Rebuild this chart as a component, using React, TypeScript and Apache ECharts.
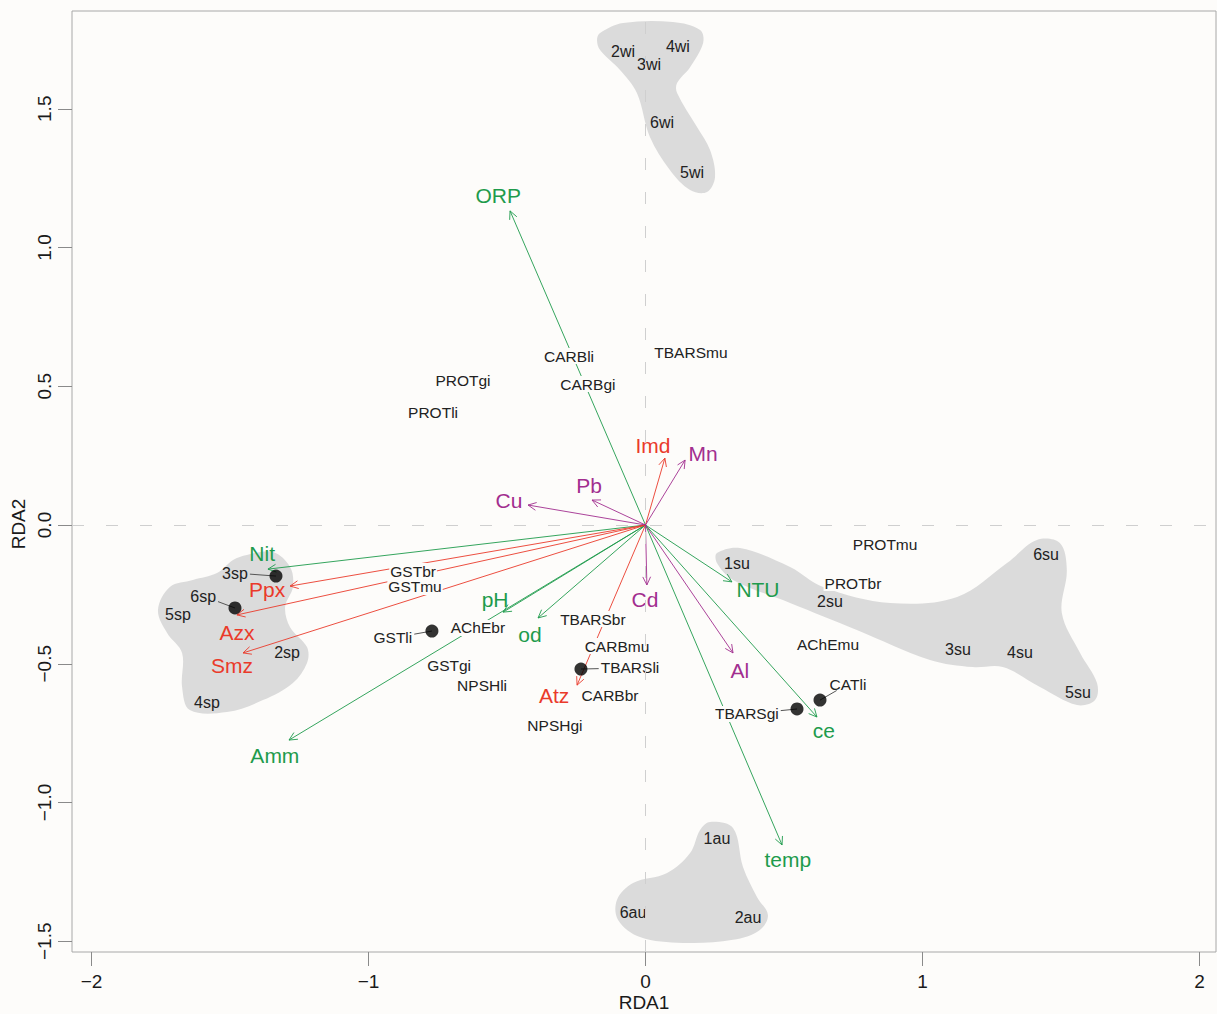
import React, { useEffect, useRef } from "react";
import * as echarts from "echarts";

const FONT = "'Liberation Sans', Arial, Helvetica, sans-serif";
const BG = "#fdfcfa";
const GREEN = "#1e9b4c";
const RED = "#ea3a2a";
const PURPLE = "#a22e8f";
const INK = "#222222";
const HULL = "#dbdbdb";

// axis extents and tick values
const X_MIN = -2.0704;
const X_MAX = 2.0596;
const Y_MIN = -1.5387;
const Y_MAX = 1.8523;
const xTicks = [-2, -1, 0, 1, 2];
const yTicks = [-1.5, -1, -0.5, 0, 0.5, 1, 1.5];

// site scores (season samples)
const siteNames = ["2wi", "4wi", "3wi", "6wi", "5wi", "3sp", "6sp", "5sp", "2sp", "4sp", "1su", "2su", "6su", "3su", "4su", "5su", "1au", "6au", "2au"];
const siteX = [-0.081, 0.117, 0.013, 0.06, 0.168, -1.482, -1.597, -1.688, -1.294, -1.583, 0.33, 0.666, 1.446, 1.128, 1.352, 1.561, 0.258, -0.045, 0.37];
const siteY = [1.708, 1.726, 1.658, 1.452, 1.272, -0.173, -0.256, -0.324, -0.461, -0.638, -0.137, -0.274, -0.108, -0.45, -0.461, -0.602, -1.128, -1.398, -1.416];

// biomarker (response) scores
const respNames = ["TBARSmu", "CARBli", "CARBgi", "PROTgi", "PROTli", "PROTmu", "PROTbr", "AChEmu", "CATli", "TBARSgi", "GSTbr", "GSTmu", "GSTli", "AChEbr", "GSTgi", "NPSHli", "NPSHgi", "TBARSbr", "CARBmu", "TBARSli", "CARBbr"];
const respX = [0.164, -0.276, -0.208, -0.659, -0.767, 0.865, 0.749, 0.659, 0.731, 0.366, -0.839, -0.832, -0.912, -0.605, -0.709, -0.59, -0.327, -0.19, -0.103, -0.056, -0.128];
const respY = [0.623, 0.609, 0.508, 0.519, 0.404, -0.072, -0.209, -0.429, -0.573, -0.681, -0.166, -0.223, -0.407, -0.371, -0.508, -0.58, -0.724, -0.339, -0.436, -0.515, -0.613];

// points shown with a dot and a leader to their label
const dotNames = ["3sp", "6sp", "GSTli", "TBARSli", "CATli", "TBARSgi"];
const dotX = [-1.334, -1.482, -0.771, -0.233, 0.63, 0.547];
const dotY = [-0.184, -0.299, -0.382, -0.519, -0.631, -0.663];

// physico-chemical variables
const envNames = ["ORP", "Nit", "pH", "od", "Amm", "NTU", "ce", "temp"];
const envX = [-0.489, -1.363, -0.514, -0.388, -1.287, 0.312, 0.619, 0.493];
const envY = [1.132, -0.159, -0.314, -0.335, -0.775, -0.205, -0.692, -1.153];
const envLabelX = [-0.532, -1.384, -0.543, -0.417, -1.338, 0.406, 0.644, 0.514];
const envLabelY = [1.186, -0.101, -0.267, -0.396, -0.829, -0.231, -0.739, -1.204];

// pesticides
const pestNames = ["Imd", "Ppx", "Azx", "Smz", "Atz"];
const pestX = [0.07, -1.283, -1.475, -1.453, -0.247];
const pestY = [0.241, -0.22, -0.324, -0.461, -0.577];
const pestLabelX = [0.027, -1.366, -1.475, -1.493, -0.33];
const pestLabelY = [0.288, -0.234, -0.386, -0.505, -0.613];

// metals
const metalNames = ["Mn", "Cu", "Pb", "Cd", "Al"];
const metalX = [0.143, -0.424, -0.193, 0.005, 0.316];
const metalY = [0.234, 0.072, 0.09, -0.216, -0.461];
const metalLabelX = [0.208, -0.493, -0.204, -0.002, 0.341];
const metalLabelY = [0.259, 0.09, 0.144, -0.267, -0.523];

// season envelopes
const winterHull = [[-0.164, 1.773], [-0.081, 1.809], [0.099, 1.813], [0.197, 1.784], [0.208, 1.737], [0.161, 1.65], [0.114, 1.593], [0.114, 1.557], [0.186, 1.434], [0.233, 1.351], [0.251, 1.254], [0.222, 1.2], [0.161, 1.207], [0.088, 1.279], [0.016, 1.398], [-0.031, 1.557], [-0.092, 1.64], [-0.164, 1.712], [-0.175, 1.748]];
const springHull = [[-1.439, -0.108], [-1.345, -0.097], [-1.283, -0.151], [-1.273, -0.223], [-1.301, -0.295], [-1.283, -0.368], [-1.222, -0.44], [-1.222, -0.497], [-1.273, -0.569], [-1.381, -0.631], [-1.511, -0.674], [-1.645, -0.667], [-1.673, -0.584], [-1.673, -0.461], [-1.727, -0.389], [-1.76, -0.306], [-1.717, -0.223], [-1.634, -0.198], [-1.547, -0.173], [-1.489, -0.126]];
const summerHull = [[0.258, -0.101], [0.341, -0.083], [0.522, -0.151], [0.641, -0.223], [0.883, -0.281], [1.125, -0.259], [1.305, -0.137], [1.413, -0.054], [1.496, -0.065], [1.521, -0.162], [1.503, -0.317], [1.569, -0.461], [1.63, -0.569], [1.623, -0.631], [1.558, -0.649], [1.424, -0.584], [1.29, -0.512], [1.182, -0.512], [1.027, -0.486], [0.763, -0.378], [0.522, -0.281], [0.316, -0.198], [0.258, -0.137]];
const autumnHull = [[0.233, -1.07], [0.316, -1.092], [0.352, -1.232], [0.403, -1.341], [0.442, -1.405], [0.413, -1.459], [0.316, -1.495], [0.135, -1.506], [-0.02, -1.485], [-0.099, -1.423], [-0.103, -1.351], [-0.045, -1.29], [0.078, -1.254], [0.161, -1.182], [0.197, -1.099]];
const hulls = [winterHull, springHull, summerHull, autumnHull];

const SITE_SIZE = 16;
const RESP_SIZE = 15.5;
const VAR_SIZE = 21;
const AXIS_SIZE = 19;

let measureCtx: CanvasRenderingContext2D | null = null;
function textWidth(text: string, size: number) {
  if (!measureCtx) measureCtx = document.createElement("canvas").getContext("2d");
  if (!measureCtx) return text.length * size * 0.55;
  measureCtx.font = `${size}px ${FONT}`;
  return measureCtx.measureText(text).width;
}

function fmt(v: number, digits: number) {
  return v.toFixed(digits).replace("-", "\u2212");
}

function hullSeries() {
  return {
    type: "custom",
    z: 1,
    silent: true,
    data: hulls.map((_, i) => [hulls[i][0][0], hulls[i][0][1], i]),
    renderItem: (params: any, api: any) => {
      const pts = hulls[params.dataIndex].map((p) => api.coord(p));
      return {
        type: "polygon",
        shape: { points: pts, smooth: 0.35 },
        style: { fill: HULL, stroke: null },
      };
    },
  };
}

function arrowSeries(xs: number[], ys: number[], color: string) {
  return {
    type: "custom",
    z: 3,
    silent: true,
    data: xs.map((x, i) => [x, ys[i]]),
    renderItem: (params: any, api: any) => {
      const o = api.coord([0, 0]);
      const t = api.coord([api.value(0), api.value(1)]);
      const dx = t[0] - o[0];
      const dy = t[1] - o[1];
      const len = Math.hypot(dx, dy) || 1;
      const ux = dx / len;
      const uy = dy / len;
      const L = 9;
      const a = Math.PI / 7;
      const arm = (s: number) => [
        t[0] - L * (ux * Math.cos(a) - s * uy * Math.sin(a)),
        t[1] - L * (uy * Math.cos(a) + s * ux * Math.sin(a)),
      ];
      return {
        type: "group",
        children: [
          { type: "line", shape: { x1: o[0], y1: o[1], x2: t[0], y2: t[1] }, style: { stroke: color, lineWidth: 0.9 } },
          { type: "polyline", shape: { points: [arm(1), t, arm(-1)] }, style: { stroke: color, fill: null, lineWidth: 0.9 } },
        ],
      };
    },
  };
}

function labelSeries(names: string[], xs: number[], ys: number[], color: string, size: number, masked: boolean, z: number) {
  return {
    type: "custom",
    z,
    silent: true,
    data: xs.map((x, i) => [x, ys[i]]),
    renderItem: (params: any, api: any) => {
      const p = api.coord([api.value(0), api.value(1)]);
      const style: any = {
        text: names[params.dataIndex],
        fill: color,
        font: `${size}px ${FONT}`,
        align: "center",
        verticalAlign: "middle",
      };
      if (masked) {
        style.backgroundColor = BG;
        style.padding = [0, 1];
      }
      return { type: "text", x: p[0], y: p[1], style };
    },
  };
}

function leaderSeries() {
  const data = dotNames.map((n, i) => {
    let k = siteNames.indexOf(n);
    let lx: number, ly: number, size: number;
    if (k >= 0) {
      lx = siteX[k];
      ly = siteY[k];
      size = SITE_SIZE;
    } else {
      k = respNames.indexOf(n);
      lx = respX[k];
      ly = respY[k];
      size = RESP_SIZE;
    }
    return [dotX[i], dotY[i], lx, ly, size, i];
  });
  return {
    type: "custom",
    z: 5,
    silent: true,
    data,
    renderItem: (params: any, api: any) => {
      const d = api.coord([api.value(0), api.value(1)]);
      const l = api.coord([api.value(2), api.value(3)]);
      const size = api.value(4);
      const name = dotNames[params.dataIndex];
      const hw = textWidth(name, size) / 2 + 2;
      const hh = size * 0.42;
      const dx = d[0] - l[0];
      const dy = d[1] - l[1];
      const t = Math.min(Math.abs(dx) > 0 ? hw / Math.abs(dx) : Infinity, Math.abs(dy) > 0 ? hh / Math.abs(dy) : Infinity);
      const e = [l[0] + t * dx, l[1] + t * dy];
      return {
        type: "line",
        shape: { x1: d[0], y1: d[1], x2: e[0], y2: e[1] },
        style: { stroke: "#555", lineWidth: 1 },
      };
    },
  };
}

function buildOption() {
  const axisText = { fontFamily: FONT, fontSize: AXIS_SIZE, color: "#1a1a1a" };
  return {
    animation: false,
    backgroundColor: BG,
    grid: {
      left: 72,
      top: 11,
      width: 1144,
      height: 941,
      show: true,
      borderColor: "#a8a8a8",
      borderWidth: 1,
      backgroundColor: BG,
      containLabel: false,
      outerBoundsMode: "none",
    },
    xAxis: {
      type: "value",
      min: X_MIN,
      max: X_MAX,
      axisLine: { show: false, onZero: false },
      splitLine: { show: false },
      axisTick: { show: true, inside: false, length: 14, customValues: xTicks, lineStyle: { color: "#8a8a8a" } },
      axisLabel: { ...axisText, margin: 20, customValues: xTicks, formatter: (v: number) => fmt(v, 0) },
    },
    yAxis: {
      type: "value",
      min: Y_MIN,
      max: Y_MAX,
      axisLine: { show: false, onZero: false },
      splitLine: { show: false },
      axisTick: { show: true, inside: false, length: 14, customValues: yTicks, lineStyle: { color: "#8a8a8a" } },
      axisLabel: { ...axisText, margin: 18, rotate: 90, customValues: yTicks, formatter: (v: number) => fmt(v, 1) },
    },
    graphic: [
      {
        type: "text",
        x: 644,
        y: 1002,
        style: { text: "RDA1", font: `${AXIS_SIZE}px ${FONT}`, fill: "#1a1a1a", align: "center", verticalAlign: "middle" },
      },
      {
        type: "text",
        x: 18,
        y: 524,
        rotation: Math.PI / 2,
        style: { text: "RDA2", font: `${AXIS_SIZE}px ${FONT}`, fill: "#1a1a1a", align: "center", verticalAlign: "middle" },
      },
    ],
    series: [
      hullSeries(),
      {
        type: "line",
        data: [],
        z: 2,
        silent: true,
        markLine: {
          silent: true,
          symbol: "none",
          label: { show: false },
          lineStyle: { color: "#cfcfcf", type: [12, 22], width: 1 },
          data: [{ xAxis: 0 }, { yAxis: 0 }],
        },
      },
      arrowSeries(envX, envY, GREEN),
      arrowSeries(pestX, pestY, RED),
      arrowSeries(metalX, metalY, PURPLE),
      labelSeries(respNames, respX, respY, INK, RESP_SIZE, true, 4),
      labelSeries(siteNames, siteX, siteY, INK, SITE_SIZE, false, 4),
      labelSeries(envNames, envLabelX, envLabelY, GREEN, VAR_SIZE, false, 4),
      labelSeries(pestNames, pestLabelX, pestLabelY, RED, VAR_SIZE, false, 4),
      labelSeries(metalNames, metalLabelX, metalLabelY, PURPLE, VAR_SIZE, false, 4),
      leaderSeries(),
      {
        type: "scatter",
        z: 6,
        silent: true,
        symbol: "circle",
        symbolSize: 13,
        itemStyle: { color: "#000" },
        data: dotX.map((x, i) => [x, dotY[i]]),
      },
    ],
  };
}

export default function App() {
  const ref = useRef<HTMLDivElement>(null);
  useEffect(() => {
    if (!ref.current) return;
    const chart = echarts.init(ref.current, undefined, { renderer: "svg" });
    chart.setOption(buildOption() as any);
    return () => chart.dispose();
  }, []);
  return <div ref={ref} style={{ position: "absolute", left: 0, top: 0, width: 1217, height: 1014 }} />;
}
